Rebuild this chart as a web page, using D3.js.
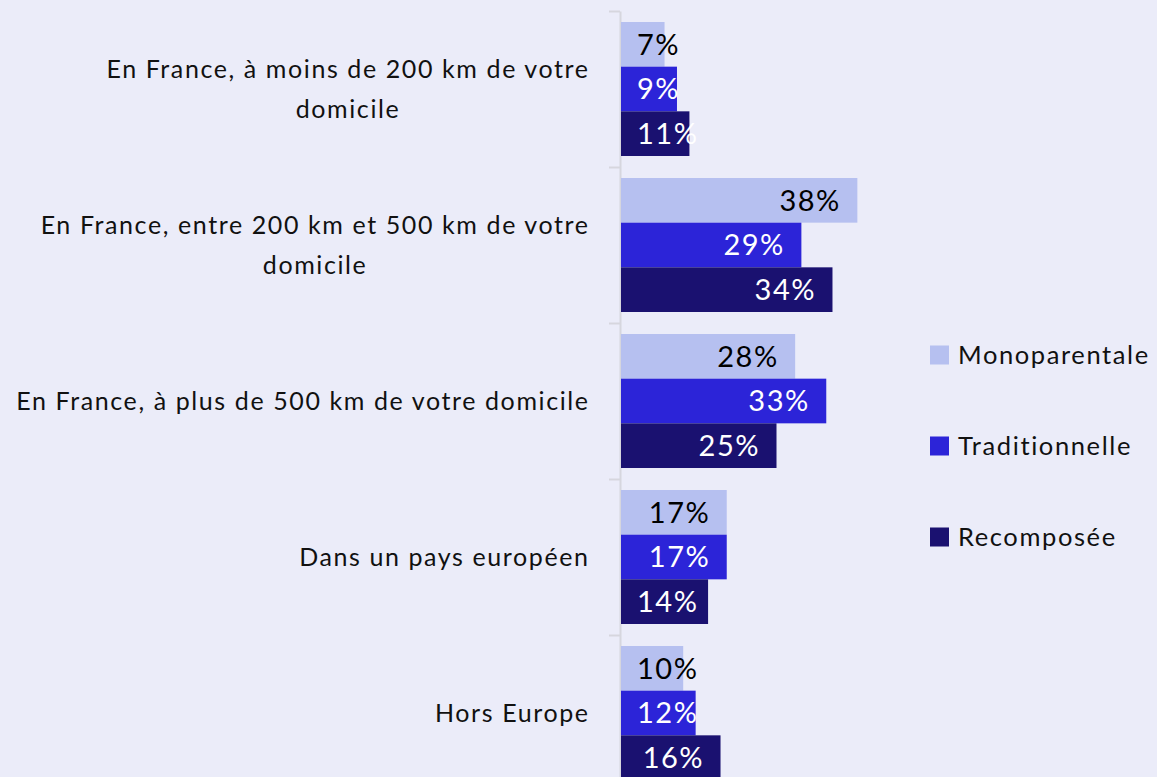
<!DOCTYPE html>
<html>
<head>
<meta charset="utf-8">
<script src="https://cdn.jsdelivr.net/npm/d3@7"></script>
<style>
  html, body { margin: 0; padding: 0; background: #ebecf9; }
  svg { display: block; font-family: "Lato", "Noto Sans", sans-serif; }
</style>
</head>
<body>
<svg id="chart" width="1157" height="777"></svg>
<script>
// Destination categories, each split into its display lines
const categories = [
  "En France, à moins de 200 km de votre domicile",
  "En France, entre 200 km et 500 km de votre domicile",
  "En France, à plus de 500 km de votre domicile",
  "Dans un pays européen",
  "Hors Europe"
];
const categoryLines = [
  ["En France, à moins de 200 km de votre", "domicile"],
  ["En France, entre 200 km et 500 km de votre", "domicile"],
  ["En France, à plus de 500 km de votre domicile"],
  ["Dans un pays européen"],
  ["Hors Europe"]
];

// Family types (series)
const series = ["Monoparentale", "Traditionnelle", "Recomposée"];

// Share of respondents (%) per category, one array per family type
const monoparentale  = [7, 38, 28, 17, 10];
const traditionnelle = [9, 29, 33, 17, 12];
const recomposee     = [11, 34, 25, 14, 16];

const seriesValues = [monoparentale, traditionnelle, recomposee];
const seriesColors = ["#b6c0f0", "#2c24d8", "#1a1170"];
const labelColors  = ["#000000", "#ffffff", "#ffffff"];

const svg = d3.select("#chart");

// Layout
const axisX = 620;
const topY = 11;
const step = 156;
const groupPad = 11;

const x = d3.scaleLinear().domain([0, 40]).range([axisX, axisX + 40 * 6.22]);

const y = d3.scaleBand()
  .domain(categories)
  .range([topY, topY + step * categories.length])
  .padding(0);

const yInner = d3.scaleBand()
  .domain(series)
  .range([groupPad, step - groupPad])
  .padding(0);

// Boundary axis: ticks at category edges
const yEdges = d3.scaleLinear()
  .domain([0, categories.length])
  .range([topY, topY + step * categories.length]);

const axis = svg.append("g")
  .attr("transform", `translate(${axisX},0)`)
  .call(d3.axisLeft(yEdges)
    .tickValues(d3.range(categories.length + 1))
    .tickFormat("")
    .tickSize(11)
    .tickSizeOuter(0));
axis.selectAll("path, line").attr("stroke", "#d6d6de").attr("stroke-width", 2);

// Bars
const rows = [];
categories.forEach((c, ci) => {
  series.forEach((s, si) => {
    rows.push({ cat: c, ser: s, si, value: seriesValues[si][ci] });
  });
});

svg.append("g")
  .selectAll("rect")
  .data(rows)
  .join("rect")
  .attr("x", x(0) + 1)
  .attr("y", d => y(d.cat) + yInner(d.ser))
  .attr("width", d => x(d.value) - x(0))
  .attr("height", yInner.bandwidth())
  .attr("fill", d => seriesColors[d.si]);

// Value labels inside the bar end, kept clear of the axis for short bars
const valueSpacing = 1.5;
const labels = svg.append("g")
  .selectAll("text")
  .data(rows)
  .join("text")
  .attr("y", d => y(d.cat) + yInner(d.ser) + yInner.bandwidth() / 2)
  .attr("dy", "0.36em")
  .attr("text-anchor", "end")
  .attr("font-size", 29)
  .attr("letter-spacing", valueSpacing)
  .attr("fill", d => labelColors[d.si])
  .text(d => d.value + "%");
labels.each(function(d) {
  const w = this.getComputedTextLength() - valueSpacing;
  const xe = Math.max(x(d.value) - 17, x(0) + 17 + w);
  d3.select(this).attr("x", xe + valueSpacing);
});

// Category labels: block right-aligned, lines centred within the block
const catFont = 25;
const catSpacing = 1.6;
const catG = svg.append("g");
categoryLines.forEach((lines, ci) => {
  const cy = y(categories[ci]) + step / 2;
  const lh = 40;
  const g = catG.append("g");
  const texts = g.selectAll("text")
    .data(lines)
    .join("text")
    .attr("font-size", catFont)
    .attr("letter-spacing", catSpacing)
    .attr("fill", "#111")
    .attr("text-anchor", "middle")
    .attr("dy", "0.35em")
    .attr("y", (d, i) => cy + (i - (lines.length - 1) / 2) * lh)
    .text(d => d);
  let maxW = 0;
  texts.each(function() { maxW = Math.max(maxW, this.getComputedTextLength() - catSpacing); });
  texts.attr("x", axisX - 32 - maxW / 2 + catSpacing / 2);
});

// Legend
const legend = svg.append("g");
series.forEach((s, i) => {
  const ly = 355 + i * 91;
  legend.append("rect")
    .attr("x", 930).attr("y", ly - 9.5)
    .attr("width", 19).attr("height", 19)
    .attr("fill", seriesColors[i]);
  legend.append("text")
    .attr("x", 958).attr("y", ly)
    .attr("dy", "0.35em")
    .attr("font-size", 25.5)
    .attr("letter-spacing", 1.6)
    .attr("fill", "#111")
    .text(s);
});
</script>
</body>
</html>
